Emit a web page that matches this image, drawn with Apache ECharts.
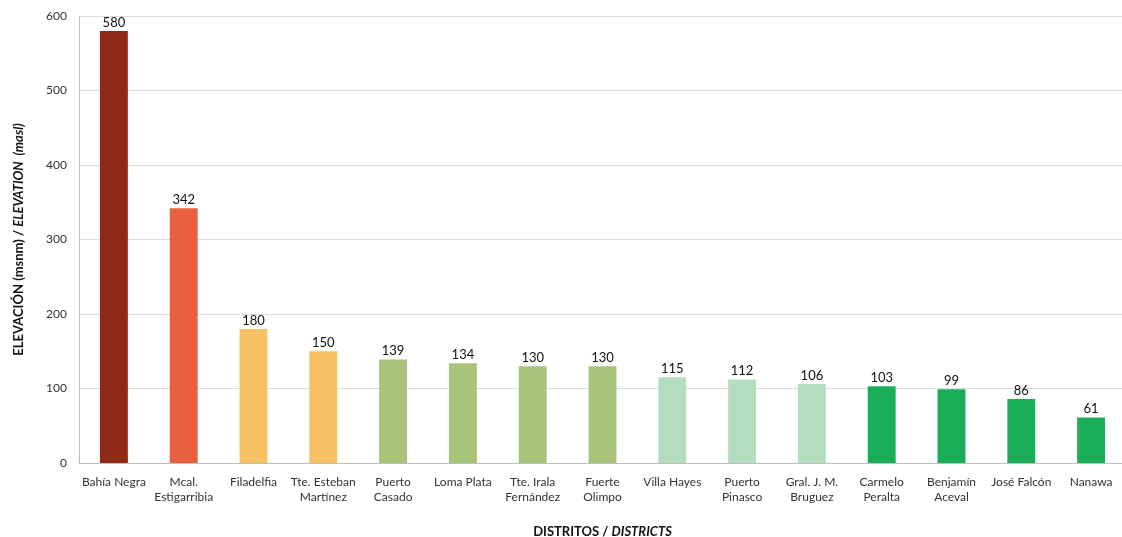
<!DOCTYPE html>
<html>
<head>
<meta charset="utf-8">
<script src="https://cdn.jsdelivr.net/npm/echarts@6/dist/echarts.min.js"></script>
<style>html,body{margin:0;padding:0;background:#fff}#c{width:1122px;height:537px}</style>
</head>
<body>
<div id="c"></div>
<script>
var categories = ["Bahía Negra","Mcal.\nEstigarribia","Filadelfia","Tte. Esteban\nMartínez","Puerto\nCasado","Loma Plata","Tte. Irala\nFernández","Fuerte\nOlimpo","Villa Hayes","Puerto\nPinasco","Gral. J. M.\nBruguez","Carmelo\nPeralta","Benjamín\nAceval","José Falcón","Nanawa"];
var values = [580,342,180,150,139,134,130,130,115,112,106,103,99,86,61];
var colors = ["#8E2A17","#E9603F","#F7C163","#F7C163","#A8C47A","#A8C47A","#A8C47A","#A8C47A","#B3DDBD","#B3DDBD","#B3DDBD","#1BAE59","#1BAE59","#1BAE59","#1BAE59"];
var yTicks = [0,100,200,300,400,500,600];

var FONT = "Lato, 'Open Sans', sans-serif";
var chart = echarts.init(document.getElementById('c'));
chart.setOption({
  animation:false,
  textStyle:{fontFamily:FONT},
  grid:{left:79,top:16,width:1047,height:447,containLabel:false,outerBoundsMode:'none'},
  xAxis:{
    type:'category', data:categories,
    axisTick:{show:false},
    axisLine:{lineStyle:{color:'#bfbfbf',width:1}},
    axisLabel:{color:'#333',fontSize:12,fontFamily:FONT,interval:0,margin:12,lineHeight:15},
    name:'{b|DISTRITOS / }{bi|DISTRICTS}',
    nameLocation:'middle', nameGap:62,
    nameTextStyle:{rich:{b:{fontWeight:'bold',fontSize:13,color:'#111',fontFamily:FONT},bi:{fontWeight:'bold',fontStyle:'italic',fontSize:13,color:'#111',fontFamily:FONT}}}
  },
  yAxis:{
    type:'value', min:yTicks[0], max:yTicks[yTicks.length-1], interval:100,
    axisLine:{show:true,lineStyle:{color:'#bfbfbf'}},
    axisTick:{show:false},
    splitLine:{lineStyle:{color:'#dcdcdc',width:1}},
    axisLabel:{color:'#333',fontSize:12,fontFamily:FONT,margin:12},
    name:'{b|ELEVACIÓN (msnm) / }{bi|ELEVATION  (masl)}',
    nameLocation:'middle', nameGap:54, nameRotate:90,
    nameTextStyle:{rich:{b:{fontWeight:'bold',fontSize:13,color:'#111',fontFamily:FONT},bi:{fontWeight:'bold',fontStyle:'italic',fontSize:13,color:'#111',fontFamily:FONT}}}
  },
  series:[{
    type:'bar',
    data:values.map(function(v,i){return {value:v,itemStyle:{color:colors[i]}};}),
    barWidth:'40%',
    label:{show:true,position:'top',distance:2,color:'#111',fontSize:13,fontFamily:FONT}
  }]
});
</script>
</body>
</html>
